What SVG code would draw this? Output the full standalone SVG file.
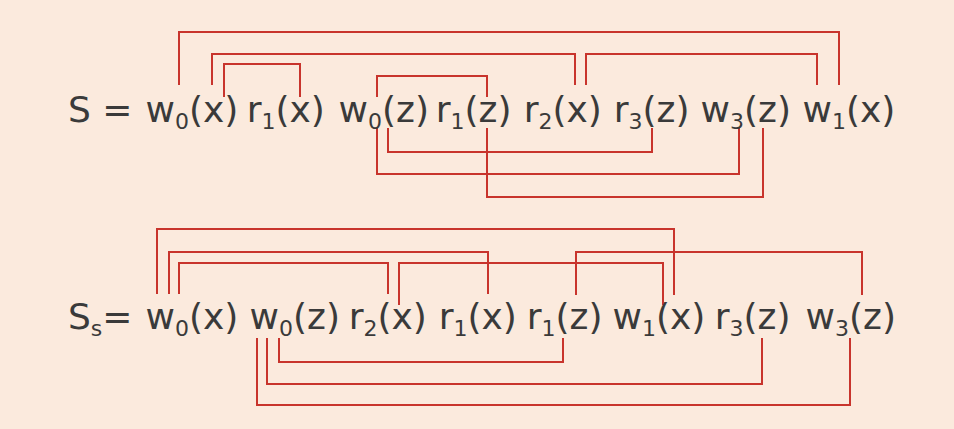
<svg xmlns="http://www.w3.org/2000/svg" width="954" height="429" viewBox="0 0 954 429">
<style>
  .t { font-family: "DejaVu Sans", Verdana, sans-serif; font-size: 36px; fill: #3a3a3a; }
  .s { font-size: 22px; }
  .c { fill: none; stroke: #c8342c; stroke-width: 2; stroke-linejoin: miter; }
</style>
<rect x="0" y="0" width="954" height="429" fill="#fbeadd"/>

<g id="connectors">
  <!-- schedule S, above -->
  <path class="c" d="M179 85 V32 H839 V85"/>
  <path class="c" d="M212 85 V54 H575 V85"/>
  <path class="c" d="M224 97 V64 H300 V97"/>
  <path class="c" d="M377 97 V76 H487 V97"/>
  <path class="c" d="M586 85 V54 H817 V85"/>
  <!-- schedule S, below -->
  <path class="c" d="M388 128 V152 H652 V128"/>
  <path class="c" d="M377 128 V174 H739 V128"/>
  <path class="c" d="M487 128 V197 H763 V128"/>
  <!-- schedule Ss, above -->
  <path class="c" d="M157 294 V229 H674 V295"/>
  <path class="c" d="M169 294 V252 H488 V294"/>
  <path class="c" d="M179 294 V263 H388 V294"/>
  <path class="c" d="M399 305 V263 H663 V305"/>
  <path class="c" d="M576 295 V252 H862 V295"/>
  <!-- schedule Ss, below -->
  <path class="c" d="M279 338 V362 H563 V338"/>
  <path class="c" d="M267 338 V384 H762 V338"/>
  <path class="c" d="M257 338 V405 H850 V338"/>
</g>

<g id="S-label"><text class="t" x="68" y="122">S =</text></g>
<g id="S-w0x"><text class="t" x="145.5" y="122">w<tspan class="s" dy="7">0</tspan><tspan dy="-7">(x)</tspan></text></g>
<g id="S-r1x"><text class="t" x="246.7" y="122">r<tspan class="s" dy="7">1</tspan><tspan dy="-7">(x)</tspan></text></g>
<g id="S-w0z"><text class="t" x="338.5" y="122">w<tspan class="s" dy="7">0</tspan><tspan dy="-7">(z)</tspan></text></g>
<g id="S-r1z"><text class="t" x="435.7" y="122">r<tspan class="s" dy="7">1</tspan><tspan dy="-7">(z)</tspan></text></g>
<g id="S-r2x"><text class="t" x="523.7" y="122">r<tspan class="s" dy="7">2</tspan><tspan dy="-7">(x)</tspan></text></g>
<g id="S-r3z"><text class="t" x="613.7" y="122">r<tspan class="s" dy="7">3</tspan><tspan dy="-7">(z)</tspan></text></g>
<g id="S-w3z"><text class="t" x="700.5" y="122">w<tspan class="s" dy="7">3</tspan><tspan dy="-7">(z)</tspan></text></g>
<g id="S-w1x"><text class="t" x="802.5" y="122">w<tspan class="s" dy="7">1</tspan><tspan dy="-7">(x)</tspan></text></g>

<g id="Ss-label"><text class="t" x="68" y="329">S<tspan class="s" dy="7">s</tspan><tspan dy="-7">=</tspan></text></g>
<g id="Ss-w0x"><text class="t" x="145.5" y="329">w<tspan class="s" dy="7">0</tspan><tspan dy="-7">(x)</tspan></text></g>
<g id="Ss-w0z"><text class="t" x="249.5" y="329">w<tspan class="s" dy="7">0</tspan><tspan dy="-7">(z)</tspan></text></g>
<g id="Ss-r2x"><text class="t" x="348.7" y="329">r<tspan class="s" dy="7">2</tspan><tspan dy="-7">(x)</tspan></text></g>
<g id="Ss-r1x"><text class="t" x="438.7" y="329">r<tspan class="s" dy="7">1</tspan><tspan dy="-7">(x)</tspan></text></g>
<g id="Ss-r1z"><text class="t" x="526.7" y="329">r<tspan class="s" dy="7">1</tspan><tspan dy="-7">(z)</tspan></text></g>
<g id="Ss-w1x"><text class="t" x="612.5" y="329">w<tspan class="s" dy="7">1</tspan><tspan dy="-7">(x)</tspan></text></g>
<g id="Ss-r3z"><text class="t" x="714.7" y="329">r<tspan class="s" dy="7">3</tspan><tspan dy="-7">(z)</tspan></text></g>
<g id="Ss-w3z"><text class="t" x="805.5" y="329">w<tspan class="s" dy="7">3</tspan><tspan dy="-7">(z)</tspan></text></g>
</svg>
